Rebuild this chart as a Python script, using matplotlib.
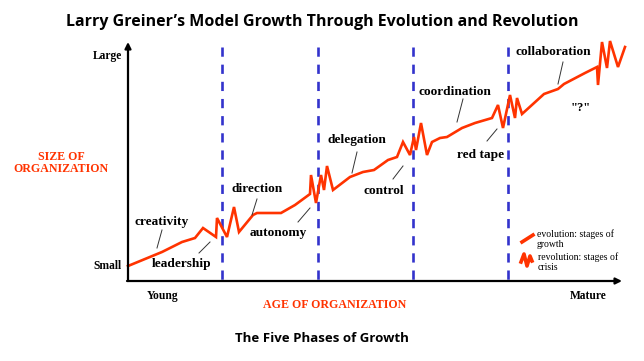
import matplotlib
matplotlib.use("Agg")
import matplotlib.pyplot as plt

# growth curve (evolution + revolution zigzags), in picture coordinates
curve_x = [128, 162, 182, 195, 203, 216, 217, 227, 234, 239, 253, 257, 281, 295,
           310, 311, 316, 321, 324, 327, 333, 350, 363, 374, 388, 397, 403, 410,
           414, 416, 421, 427, 432, 440, 447, 462, 475, 492, 498, 503, 510, 515,
           517, 522, 544, 558, 564, 585, 597, 598, 602, 607, 610, 618, 625]
curve_y = [266, 252, 242, 238, 228, 237, 218, 237, 207, 232, 215, 213, 213, 205,
           194, 175, 203, 175, 190, 166, 190, 177, 172, 170, 160, 157, 142, 155,
           137, 150, 123, 155, 142, 138, 137, 128, 123, 118, 105, 128, 95, 118,
           98, 114, 94, 89, 84, 73, 67, 85, 42, 68, 41, 67, 47]

crisis_x = [222, 318, 413, 508]

phases = ["creativity", "leadership", "direction", "autonomy", "delegation",
          "control", "coordination", "red tape", "collaboration"]
label_pos = [(162, 222), (182, 264), (257, 189), (278, 233), (357, 140),
             (384, 191), (455, 92), (481, 155), (553, 52)]
leader_lines = [((162, 230), (157, 248)), ((210, 242), (199, 253)),
                ((257, 199), (252, 215)), ((310, 208), (298, 222)),
                ((357, 152), (352, 173)), ((403, 166), (393, 179)),
                ((463, 99), (457, 122)), ((497, 129), (487, 141)),
                ((563, 62), (558, 84))]

red = "#ff3300"
blue = "#3333cc"
serif = "Liberation Serif"

fig = plt.figure(figsize=(6.44, 3.61), dpi=100)
ax = fig.add_axes([0, 0, 1, 1])
ax.set_xlim(0, 644)
ax.set_ylim(361, 0)
ax.axis("off")

# axes with arrows
ax.annotate("", xy=(128, 42), xytext=(128, 281),
            arrowprops=dict(arrowstyle="-|>", color="black", lw=1.6,
                            mutation_scale=9, shrinkA=0, shrinkB=0))
ax.annotate("", xy=(622, 281), xytext=(127, 281),
            arrowprops=dict(arrowstyle="-|>", color="black", lw=1.6,
                            mutation_scale=9, shrinkA=0, shrinkB=0))

for x in crisis_x:
    ax.plot([x, x], [47, 280], color=blue, lw=1.9, dashes=(3.5, 3))

ax.plot(curve_x, curve_y, color=red, lw=1.9, solid_joinstyle="miter")

for name, (px, py) in zip(phases, label_pos):
    ax.text(px, py, name, fontsize=9.6, fontweight="bold", family=serif,
            ha="center", va="center")
for (a, b) in leader_lines:
    ax.plot([a[0], b[0]], [a[1], b[1]], color="#333333", lw=0.7)

ax.text(581, 108, '"?"', fontsize=9, fontweight="bold", family=serif,
        ha="center", va="center")

ax.text(122, 56, "Large", fontsize=8.3, fontweight="bold", family=serif,
        ha="right", va="center")
ax.text(122, 266, "Small", fontsize=8.3, fontweight="bold", family=serif,
        ha="right", va="center")
ax.text(61, 163, "SIZE OF\nORGANIZATION", fontsize=8.6, fontweight="bold",
        family=serif, color=red, ha="center", va="center", linespacing=1.0)
ax.text(163, 296, "Young", fontsize=8.3, fontweight="bold", family=serif,
        ha="center", va="center")
ax.text(588, 296, "Mature", fontsize=8.3, fontweight="bold", family=serif,
        ha="center", va="center")
ax.text(335, 305, "AGE OF ORGANIZATION", fontsize=8.6, fontweight="bold",
        family=serif, color=red, ha="center", va="center")

# legend
ax.plot([522, 533], [242, 235], color=red, lw=2.6)
ax.text(537, 239, "evolution: stages of\ngrowth", fontsize=7, family=serif,
        ha="left", va="center", linespacing=1.2)
ax.plot([521, 524, 527, 530, 532], [262, 254, 266, 256, 261], color=red, lw=2.6)
ax.text(538, 262, "revolution: stages of\ncrisis", fontsize=7, family=serif,
        ha="left", va="center", linespacing=1.2)

ax.text(322, 22, "Larry Greiner\u2019s Model Growth Through Evolution and Revolution",
        fontsize=11.5, fontweight="bold", family="Open Sans", ha="center", va="center")
ax.text(322, 338, "The Five Phases of Growth", fontsize=9.5, fontweight="bold",
        family="Open Sans", ha="center", va="center")

fig.savefig("out.png", dpi=100)
